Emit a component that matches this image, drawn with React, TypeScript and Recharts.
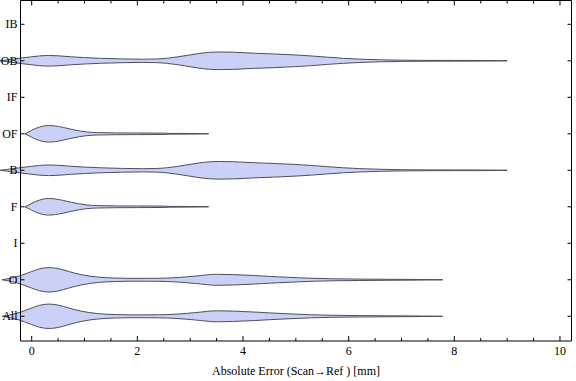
import React from 'react';
import { ComposedChart, Area, XAxis, YAxis } from 'recharts';

// Category rows, bottom to top
const categories = ['All', 'O', 'I', 'F', 'B', 'OF', 'IF', 'OB', 'IB'];

// X ticks (major every 2, minor every 0.5)
const xTicks = [0, 0.5, 1, 1.5, 2, 2.5, 3, 3.5, 4, 4.5, 5, 5.5, 6, 6.5, 7, 7.5, 8, 8.5, 9, 9.5, 10];
const xLabelTicks = [0, 2, 4, 6, 8, 10];
const xAxisTitle = 'Absolute Error (Scan\u2192Ref ) [mm]';

// Violin profiles: [error value, relative density (half-width)]
const obProfile: [number, number][] = [
  [-0.6, 0], [-0.45, 1.0], [-0.22, 2.6], [0.0, 4.0], [0.15, 4.9], [0.32, 5.3], [0.5, 5.0],
  [0.75, 4.0], [1.0, 3.2], [1.3, 2.5], [1.7, 1.9], [2.1, 1.6], [2.35, 1.8], [2.55, 2.5],
  [2.75, 3.8], [2.95, 5.5], [3.15, 7.2], [3.35, 8.4], [3.55, 8.8], [3.8, 8.6], [4.2, 7.6],
  [4.6, 6.8], [5.0, 5.8], [5.3, 4.8], [5.6, 3.6], [5.9, 2.5], [6.2, 1.7], [6.6, 1.0],
  [7.0, 0.6], [7.5, 0.4], [8.0, 0.35], [8.5, 0.3], [9.0, 0],
];
const bProfile: [number, number][] = obProfile;

const ofProfile: [number, number][] = [
  [-0.13, 0], [-0.05, 2.0], [0.0, 3.5], [0.1, 5.8], [0.2, 7.5], [0.32, 8.3], [0.45, 7.8],
  [0.6, 6.3], [0.75, 4.5], [0.9, 2.9], [1.05, 1.8], [1.25, 1.2], [1.6, 0.9], [2.0, 0.8],
  [2.5, 0.7], [2.6, 0.4], [3.0, 0.3], [3.35, 0],
];
const fProfile: [number, number][] = ofProfile;

const oProfile: [number, number][] = [
  [-0.56, 0], [-0.4, 1.5], [-0.22, 4.0], [0.0, 8.3], [0.15, 11.0], [0.33, 12.2], [0.5, 11.2],
  [0.7, 8.3], [0.95, 5.0], [1.25, 2.7], [1.6, 1.7], [1.9, 1.4], [2.4, 1.5], [2.75, 2.2],
  [3.1, 3.7], [3.5, 5.5], [3.8, 5.2], [4.2, 4.3], [4.5, 3.4], [4.85, 2.5], [5.3, 1.5],
  [5.7, 1.0], [6.2, 0.7], [6.7, 0.5], [7.2, 0.35], [7.78, 0],
];
const allProfile: [number, number][] = oProfile;

const violins: { cat: string; profile: [number, number][] }[] = [
  { cat: 'OB', profile: obProfile },
  { cat: 'OF', profile: ofProfile },
  { cat: 'B', profile: bProfile },
  { cat: 'F', profile: fProfile },
  { cat: 'O', profile: oProfile },
  { cat: 'All', profile: allProfile },
];

const WIDTH_SCALE = 1 / 36.5;
const FONT = '"Liberation Serif", "Times New Roman", serif';
const FILL = '#cbd0f6';
const EDGE = '#4f4f5a';

const BottomTick = (props: any) => {
  const { x, y, payload } = props;
  const v = payload.value;
  const major = xLabelTicks.includes(v);
  return (
    <g>
      <line x1={x} x2={x} y1={y} y2={y - (major ? 5 : 3)} stroke="#000" strokeWidth={1} />
      {major && (
        <text x={x} y={y + 14} textAnchor="middle" fontFamily={FONT} fontSize={12} fill="#000">
          {v}
        </text>
      )}
    </g>
  );
};

const TopTick = (props: any) => {
  const { x, y, payload } = props;
  const major = xLabelTicks.includes(payload.value);
  return <line x1={x} x2={x} y1={y} y2={y + (major ? 5 : 3)} stroke="#000" strokeWidth={1} />;
};

const LeftTick = (props: any) => {
  const { x, y, payload } = props;
  return (
    <g>
      <line x1={x} x2={x + 4} y1={y} y2={y} stroke="#000" strokeWidth={1} />
      <text x={x - 3} y={y + 4} textAnchor="end" fontFamily={FONT} fontSize={12} fill="#000">
        {categories[payload.value - 1]}
      </text>
    </g>
  );
};

const RightTick = (props: any) => {
  const { x, y } = props;
  return <line x1={x} x2={x - 4} y1={y} y2={y} stroke="#000" strokeWidth={1} />;
};

const yTicks = categories.map((_, i) => i + 1);

export default function App() {
  return (
    <div style={{ position: 'absolute', left: 0, top: 0, width: 576, height: 381, background: '#fff' }}>
      <style>{`.recharts-area, .recharts-area * { clip-path: none !important; }`}</style>
      <ComposedChart width={576} height={381} margin={{ top: 0, right: 4, bottom: 0, left: 0 }}>
        <XAxis
          type="number"
          dataKey="x"
          domain={[-0.212, 10.218]}
          allowDataOverflow
          ticks={xTicks}
          interval={0}
          tickSize={0}
          tickMargin={0}
          tickLine={false}
          tick={<BottomTick />}
          height={40}
          axisLine={{ stroke: '#000', strokeWidth: 1 }}
          label={{ value: xAxisTitle, position: 'insideBottom', offset: 6, style: { fontFamily: FONT, fontSize: 12, fill: '#000' } }}
        />
        <XAxis
          xAxisId="top"
          orientation="top"
          type="number"
          dataKey="x"
          domain={[-0.212, 10.218]}
          allowDataOverflow
          ticks={xTicks}
          interval={0}
          tickSize={0}
          tickMargin={0}
          tickLine={false}
          tick={<TopTick />}
          height={0.5}
          axisLine={{ stroke: '#000', strokeWidth: 1 }}
        />
        <YAxis
          type="number"
          domain={[0.323, 9.652]}
          allowDataOverflow
          ticks={yTicks}
          interval={0}
          tickSize={0}
          tickMargin={0}
          tickLine={false}
          tick={<LeftTick />}
          width={20.5}
          axisLine={{ stroke: '#000', strokeWidth: 1 }}
        />
        <YAxis
          yAxisId="r"
          orientation="right"
          type="number"
          domain={[0.323, 9.652]}
          allowDataOverflow
          ticks={yTicks}
          interval={0}
          tickSize={0}
          tickMargin={0}
          tickLine={false}
          tick={<RightTick />}
          width={0.5}
          axisLine={{ stroke: '#000', strokeWidth: 1 }}
        />
        {violins.map((v) => {
          const c = categories.indexOf(v.cat) + 1;
          const data = v.profile.map(([x, d]) => ({
            x,
            range: [c - d * WIDTH_SCALE, c + d * WIDTH_SCALE],
          }));
          return (
            <Area
              key={v.cat}
              data={data}
              dataKey="range"
              type="monotone"
              fill={FILL}
              fillOpacity={1}
              stroke={EDGE}
              strokeWidth={1}
              dot={false}
              activeDot={false}
              isAnimationActive={false}
            />
          );
        })}
      </ComposedChart>
    </div>
  );
}
